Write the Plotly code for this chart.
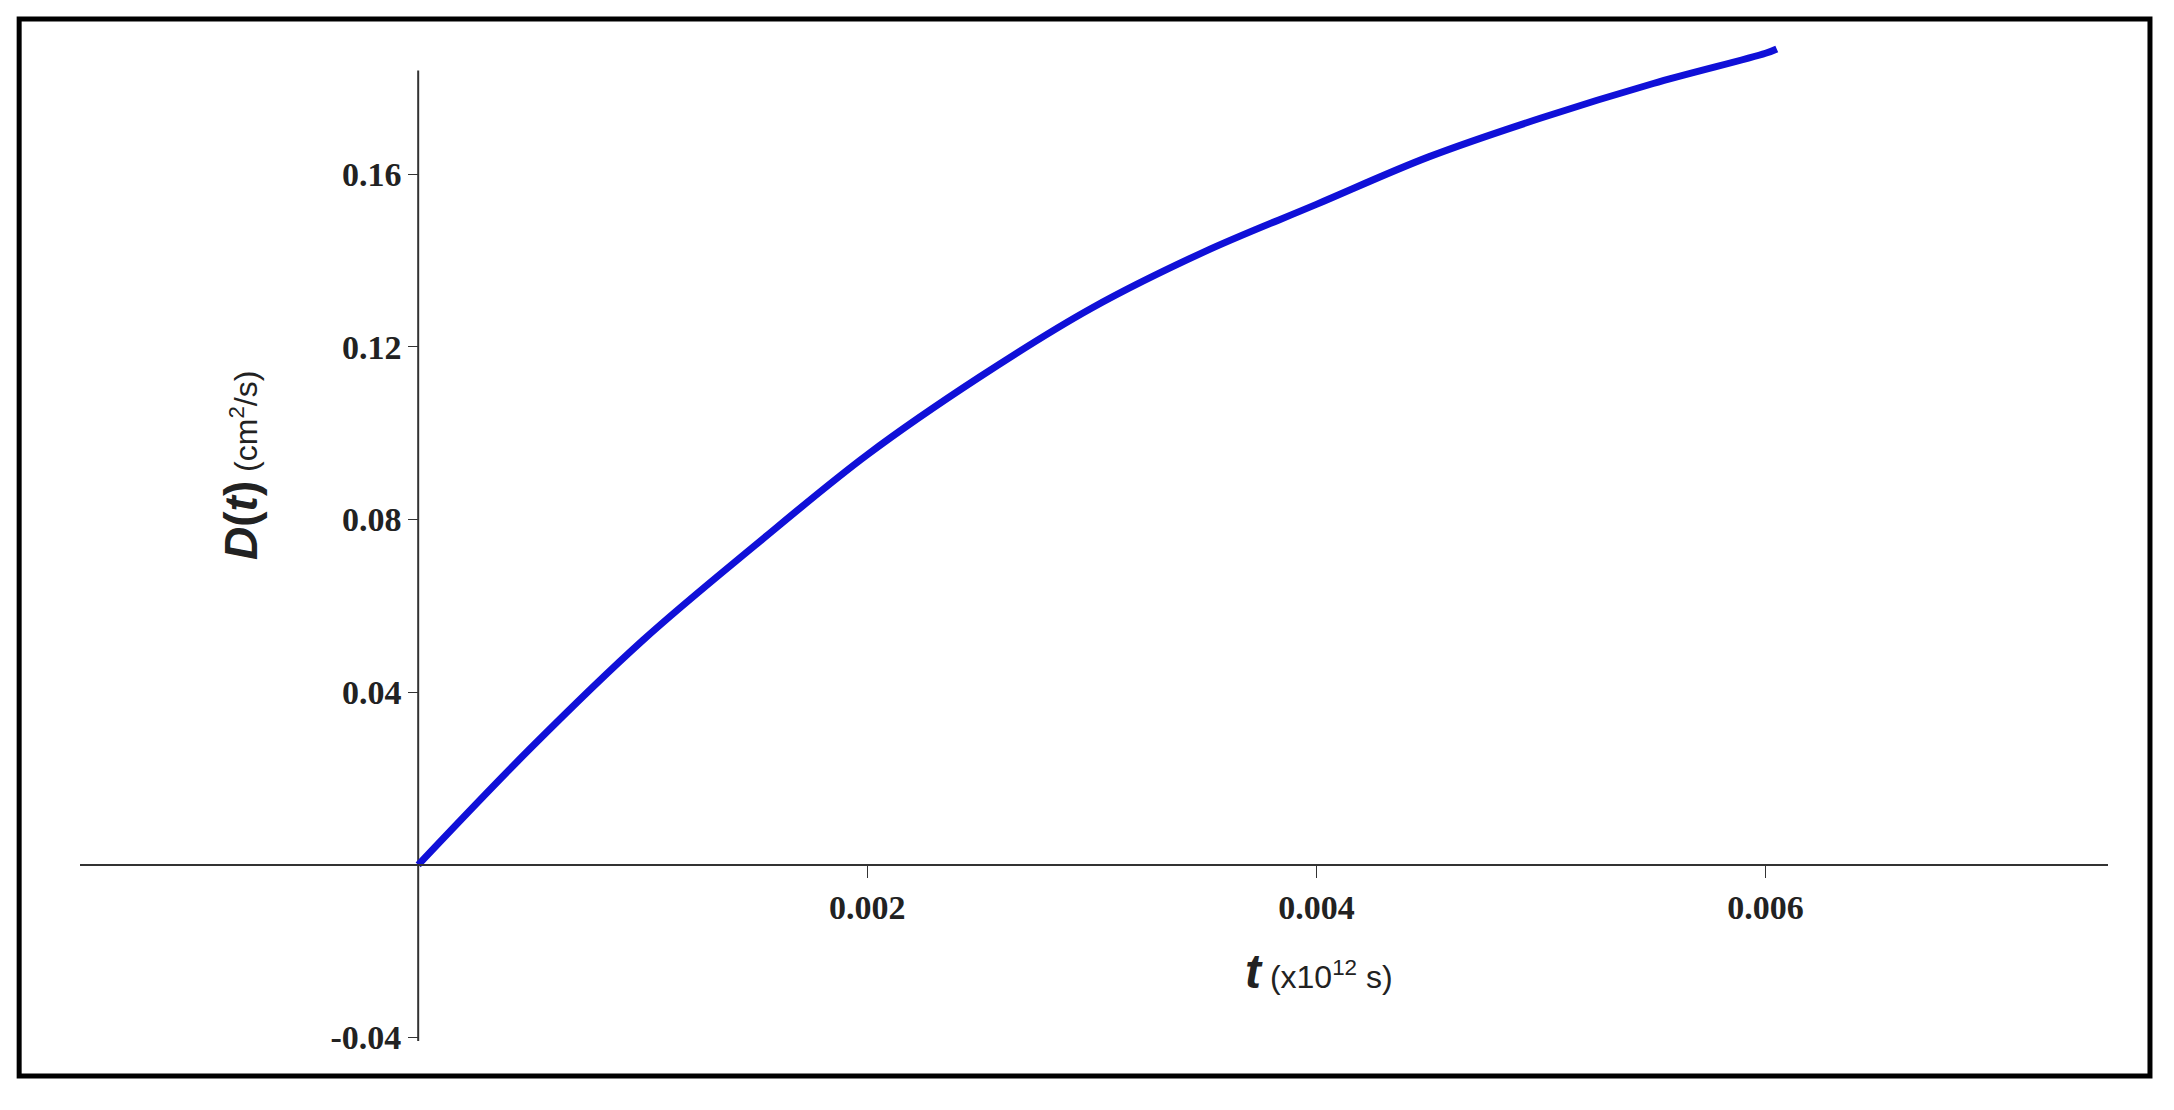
import plotly.graph_objects as go

# valeurs
t = [0, 0.0005, 0.001, 0.0015, 0.002, 0.0025, 0.003, 0.0035, 0.004, 0.0045, 0.005, 0.0055, 0.006, 0.00605]
D = [0, 0.027, 0.052, 0.074, 0.095, 0.113, 0.129, 0.142, 0.153, 0.164, 0.173, 0.181, 0.188, 0.189]

x_ticks = [0.002, 0.004, 0.006]
x_labels = ['<b>0.002</b>', '<b>0.004</b>', '<b>0.006</b>']
y_ticks = [-0.04, 0.04, 0.08, 0.12, 0.16]
y_labels = ['<b>-0.04</b>', '<b>0.04</b>', '<b>0.08</b>', '<b>0.12</b>', '<b>0.16</b>']

x_range = [-0.001506, 0.007525]
y_range = [-0.0408, 0.192]
y_axis_top = 0.184

fig = go.Figure()
fig.add_trace(go.Scatter(x=t, y=D, mode='lines', line=dict(color='#1010d8', width=7, shape='spline'),
                         showlegend=False))

tickfont = dict(family='Liberation Serif', size=34, color='#222')
ph = 1033 - 28
fig.update_layout(
    width=2174, height=1110,
    margin=dict(l=72, r=74, t=28, b=77),
    paper_bgcolor='white', plot_bgcolor='white',
    xaxis=dict(range=x_range, showgrid=False, zeroline=False, showline=True, linecolor='#333', linewidth=2,
               anchor='free', position=(0 - y_range[0]) / (y_range[1] - y_range[0]),
               tickvals=x_ticks, ticktext=x_labels, ticks='outside', ticklen=12, tickcolor='#333',
               tickfont=tickfont),
    yaxis=dict(range=y_range, showgrid=False, zeroline=False, showline=False,
               anchor='free', position=(0 - x_range[0]) / (x_range[1] - x_range[0]),
               tickvals=y_ticks, ticktext=y_labels, ticks='outside', ticklen=10, tickcolor='#333',
               tickfont=tickfont),
)

# axe vertical (s'arrete sous le haut de la courbe)
fig.add_shape(type='line', x0=0, x1=0, y0=y_range[0], y1=y_axis_top, line=dict(color='#333', width=2),
              layer='below')

# axes titles
fig.add_annotation(x=(1311 - 72) / 2028, y=(1033 - 992) / ph, xref='paper', yref='paper', showarrow=False,
                   text="<b><i>t</i></b><span style='font-size:32px'> (x10<sup>12</sup> s)</span>",
                   font=dict(family='Liberation Sans', size=48, color='#222'))
fig.add_annotation(x=(205 - 72) / 2028, y=(1033 - 458) / ph, xref='paper', yref='paper', showarrow=False,
                   textangle=-90,
                   text="<b><i>D</i>(<i>t</i>)</b><span style='font-size:32px'> (cm<sup>2</sup>/s)</span>",
                   font=dict(family='Liberation Sans', size=46, color='#222'))

# cadre noir
fig.add_shape(type='rect', xref='paper', yref='paper', x0=-0.030, x1=1.0207, y0=-0.0348, y1=1.0169,
              line=dict(color='black', width=5))

fig.write_html("out.html")
